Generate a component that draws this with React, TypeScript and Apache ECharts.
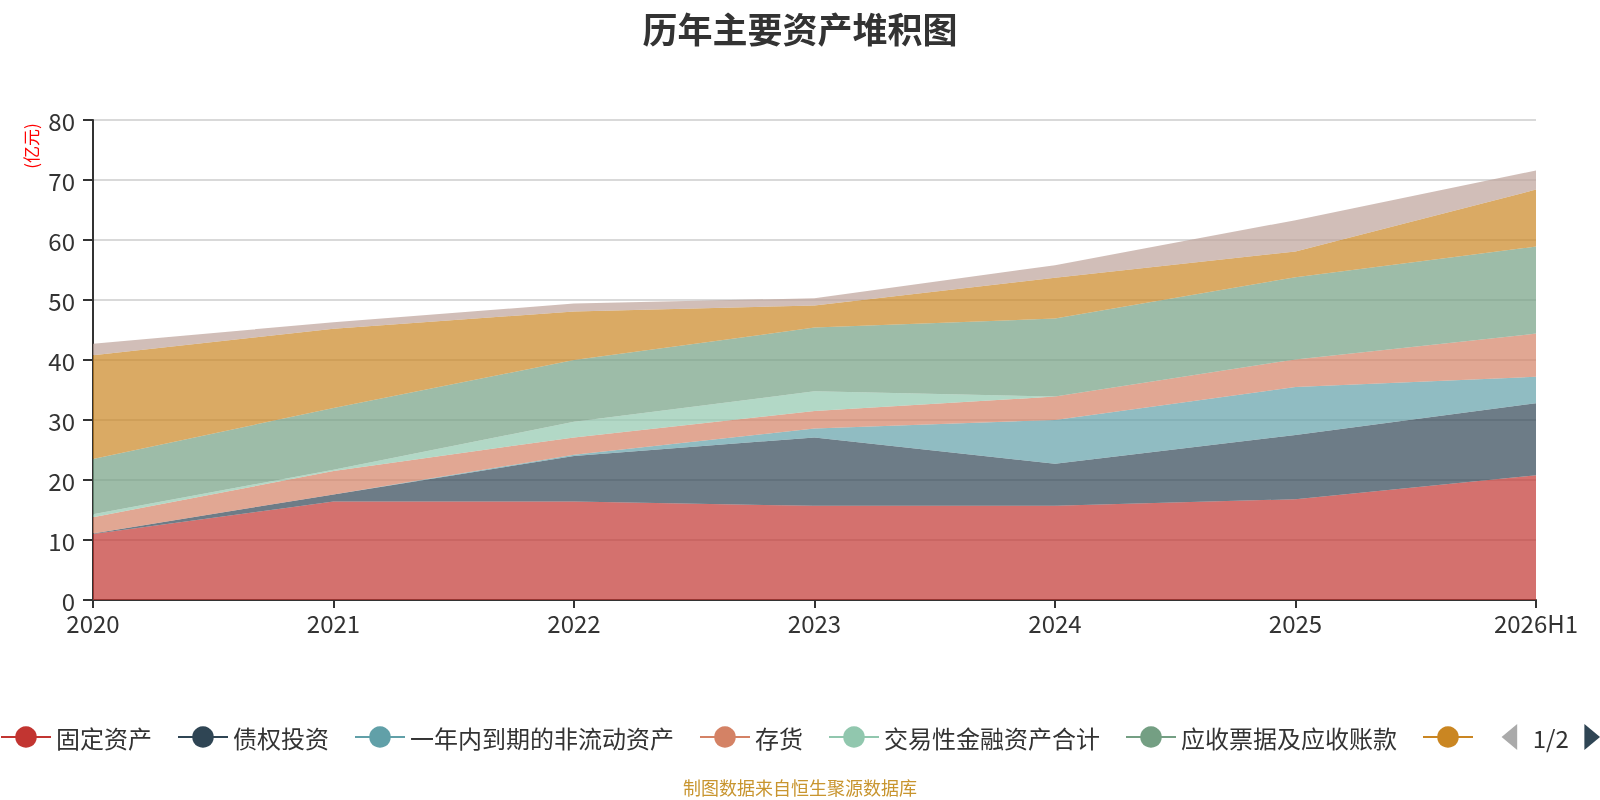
import React, { useEffect, useRef } from "react";
import * as echarts from "echarts";

const categories = ["2020", "2021", "2022", "2023", "2024", "2025", "2026H1"];
const seriesNames = [
  "固定资产",
  "债权投资",
  "一年内到期的非流动资产",
  "存货",
  "交易性金融资产合计",
  "应收票据及应收账款",
  "货币资金",
  "长期股权投资",
];
const fixedAssets = [11.0, 16.4, 16.4, 15.7, 15.7, 16.8, 20.8];
const debtInvest = [0.1, 1.2, 7.6, 11.4, 7.0, 10.7, 12.0];
const nonCurrentDue = [0, 0, 0.2, 1.5, 7.3, 8.0, 4.4];
const inventory = [2.7, 3.9, 2.9, 2.9, 3.9, 4.6, 7.2];
const tradingAssets = [0.5, 0.2, 2.6, 3.3, 0, 0, 0];
const receivables = [9.2, 10.3, 10.3, 10.6, 13.0, 13.7, 14.5];
const cash = [17.3, 13.2, 8.1, 3.7, 6.8, 4.3, 9.5];
const equityInvest = [1.9, 1.1, 1.3, 1.2, 2.1, 5.2, 3.2];
const yTicks = [0, 10, 20, 30, 40, 50, 60, 70, 80];

const palette = [
  "#c23531",
  "#2f4554",
  "#61a0a8",
  "#d48265",
  "#91c7ae",
  "#749f83",
  "#ca8622",
  "#bda29a",
];
const FONT = "'Noto Sans CJK SC', 'Noto Sans', sans-serif";

export default function App() {
  const ref = useRef<HTMLDivElement>(null);
  useEffect(() => {
    if (!ref.current) return;
    const chart = echarts.init(ref.current, null, { renderer: "svg" });
    const values = [
      fixedAssets,
      debtInvest,
      nonCurrentDue,
      inventory,
      tradingAssets,
      receivables,
      cash,
      equityInvest,
    ];
    chart.setOption({
      animation: false,
      color: palette,
      textStyle: { fontFamily: FONT },
      title: {
        text: "历年主要资产堆积图",
        left: "center",
        top: 5,
        textStyle: { fontSize: 35, fontWeight: "bold", color: "#333", fontFamily: FONT },
      },
      legend: {
        type: "scroll",
        left: 0,
        right: 0,
        top: 719,
        padding: [5, 0, 5, 0],
        itemWidth: 50,
        itemHeight: 27,
        itemGap: 25,
        textStyle: { fontSize: 24, color: "#333", fontFamily: FONT },
        lineStyle: { width: 2 },
        pageIconSize: 26,
        pageIconColor: "#2f4554",
        pageIconInactiveColor: "#aaa",
        pageTextStyle: { fontSize: 24, color: "#333", fontFamily: FONT },
        data: seriesNames,
      },
      grid: { left: 93, right: 64, top: 120, bottom: 200, containLabel: false },
      xAxis: {
        type: "category",
        boundaryGap: false,
        data: categories,
        axisLine: { lineStyle: { color: "#333", width: 2 } },
        axisTick: { length: 8, lineStyle: { color: "#333", width: 2 } },
        axisLabel: { fontSize: 24, color: "#333", margin: 10, fontFamily: FONT },
        splitLine: { show: false },
      },
      yAxis: {
        type: "value",
        min: yTicks[0],
        max: yTicks[yTicks.length - 1],
        interval: 10,
        axisLine: { show: true, lineStyle: { color: "#333", width: 2 } },
        axisTick: { show: true, length: 10, lineStyle: { color: "#333", width: 2 } },
        axisLabel: { fontSize: 24, color: "#333", margin: 18, fontFamily: FONT },
        splitLine: { lineStyle: { color: "#ccc", width: 1.5 } },
      },
      graphic: [
        {
          type: "text",
          x: 30,
          y: 146,
          rotation: Math.PI / 2,
          style: {
            text: "(亿元)",
            fill: "#ff0000",
            fontSize: 17,
            fontFamily: FONT,
            align: "center",
            verticalAlign: "middle",
          },
        },
        {
          type: "text",
          left: "center",
          top: 778,
          style: {
            text: "制图数据来自恒生聚源数据库",
            fill: "#c8952f",
            fontSize: 18,
            fontFamily: FONT,
          },
        },
      ],
      series: seriesNames.map((name, i) => ({
        name,
        type: "line",
        stack: "total",
        data: values[i],
        symbol: "circle",
        showSymbol: false,
        lineStyle: { width: 0 },
        areaStyle: { opacity: 0.7 },
        itemStyle: { color: palette[i] },
        emphasis: { disabled: true },
      })),
    });
    return () => chart.dispose();
  }, []);
  return (
    <div
      ref={ref}
      style={{ position: "fixed", left: 0, top: 0, width: 1600, height: 800 }}
    />
  );
}
